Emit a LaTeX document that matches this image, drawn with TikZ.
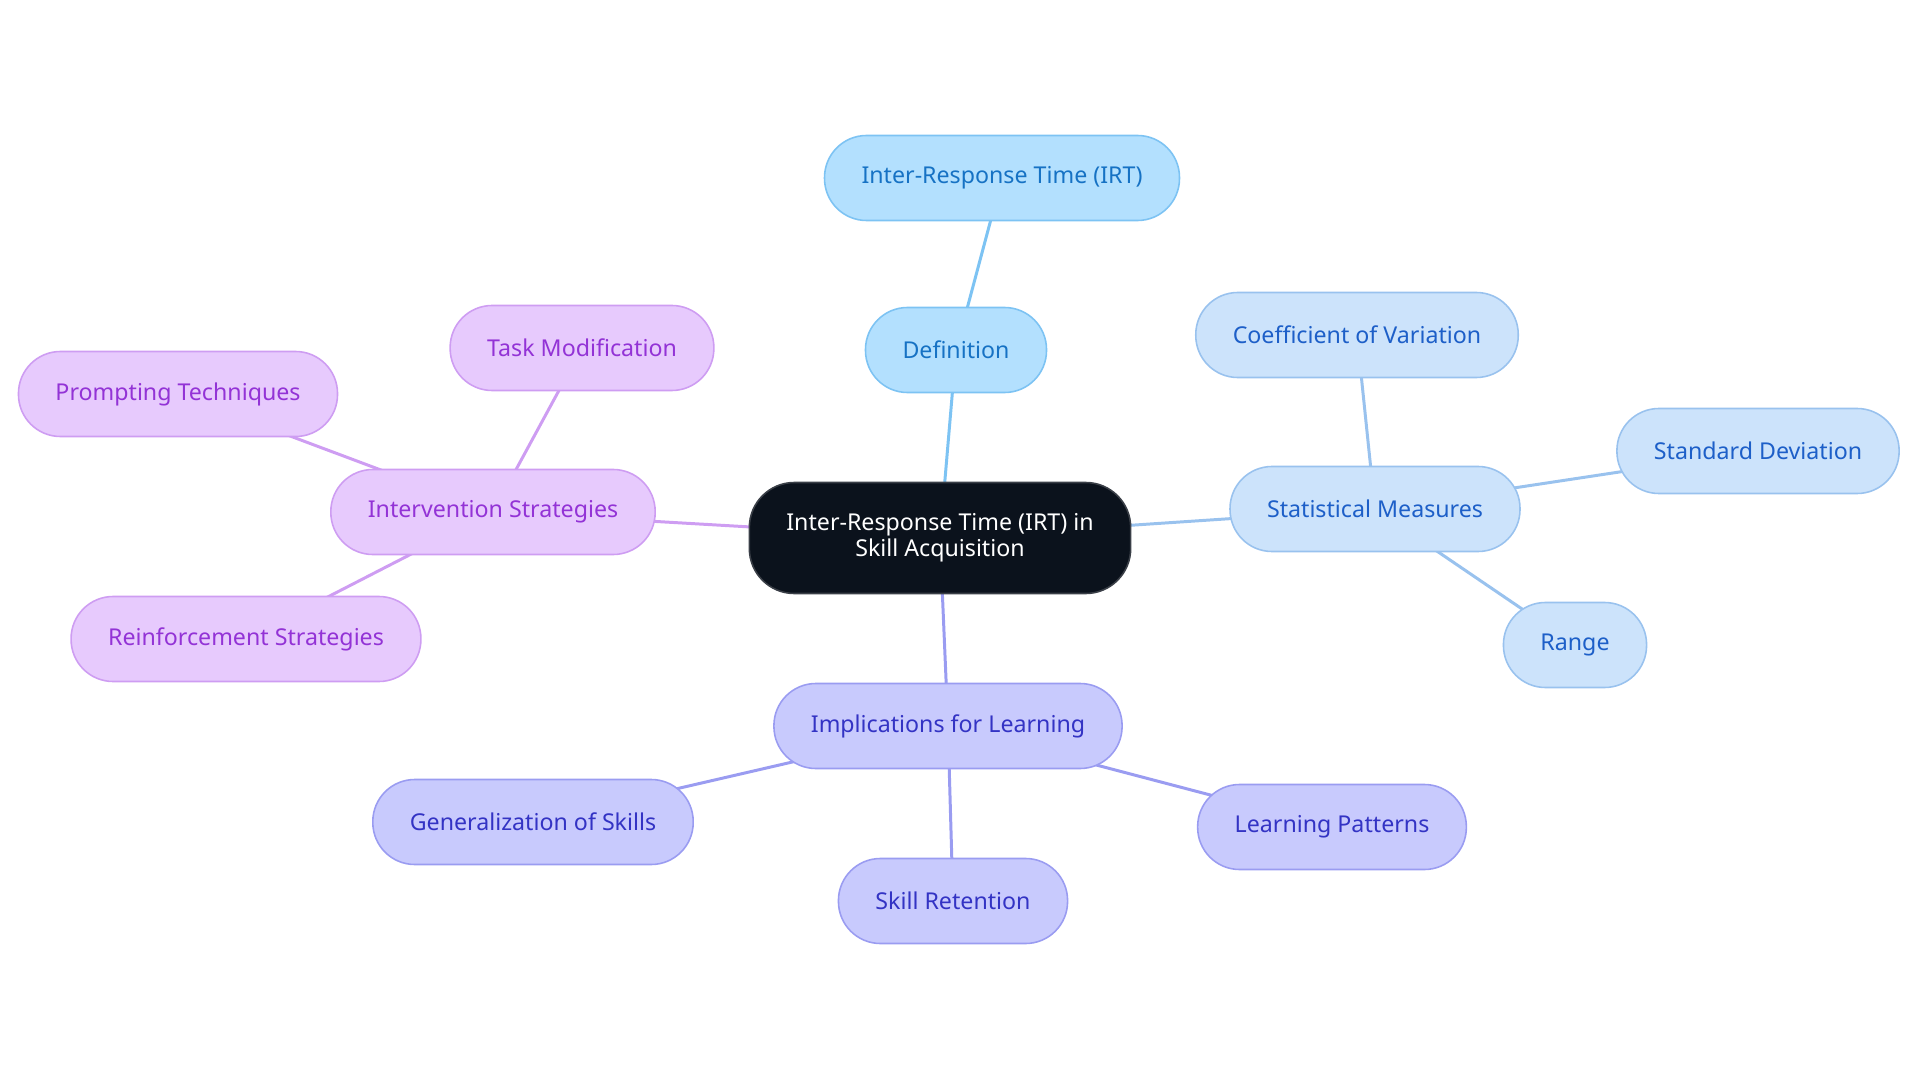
\documentclass[tikz,border=0pt]{standalone}
\usepackage{fontspec}
\setmainfont{Noto Sans}
\usepackage{tikz}
\usetikzlibrary{backgrounds}

\definecolor{hubfill}{HTML}{0B121C}
\definecolor{hubline}{HTML}{3A3F47}
\definecolor{deffill}{HTML}{B3E0FE}
\definecolor{defline}{HTML}{7DC3F3}
\definecolor{deftext}{HTML}{1672C4}
\definecolor{statfill}{HTML}{CCE3FB}
\definecolor{statline}{HTML}{99C2EE}
\definecolor{stattext}{HTML}{1D5FC8}
\definecolor{implfill}{HTML}{C8CAFD}
\definecolor{implline}{HTML}{9A9CF1}
\definecolor{impltext}{HTML}{3333C4}
\definecolor{intfill}{HTML}{E7CAFD}
\definecolor{intline}{HTML}{CE9DF2}
\definecolor{inttext}{HTML}{9333D6}

\begin{document}
\begin{tikzpicture}[
    box/.style={rounded corners=0.42cm, line width=0.45pt, minimum height=0.85cm,
      inner xsep=0.37cm, font=\fontsize{6.6}{7.5}\selectfont},
    hub/.style={box, fill=hubfill, draw=hubline, text=white, align=center,
      minimum height=1.11cm, rounded corners=0.45cm},
    defbox/.style={box, fill=deffill, draw=defline, text=deftext},
    statbox/.style={box, fill=statfill, draw=statline, text=stattext},
    implbox/.style={box, fill=implfill, draw=implline, text=impltext},
    intbox/.style={box, fill=intfill, draw=intline, text=inttext},
    link/.style={line width=0.85pt}
  ]
      \useasboundingbox (0, 0) rectangle (19.2, -10.83);
      \node[hub] (hub) at (9.40, -5.38) {Inter-Response Time (IRT) in\\Skill Acquisition};
      \node[defbox] (def) at (9.56, -3.50) {Definition};
      \node[defbox] (irt) at (10.02, -1.78) {Inter-Response Time (IRT)};
      \node[statbox] (stat) at (13.75, -5.09) {Statistical Measures};
      \node[statbox] (coef) at (13.57, -3.35) {Coefficient of Variation};
      \node[statbox] (sd) at (17.58, -4.51) {Standard Deviation};
      \node[statbox] (range) at (15.75, -6.45) {Range};
      \node[implbox] (impl) at (9.48, -7.26) {Implications for Learning};
      \node[implbox] (gen) at (5.33, -8.22) {Generalization of Skills};
      \node[implbox] (ret) at (9.53, -9.01) {Skill Retention};
      \node[implbox] (pat) at (13.32, -8.27) {Learning Patterns};
      \node[intbox] (interv) at (4.93, -5.12) {Intervention Strategies};
      \node[intbox] (task) at (5.82, -3.48) {Task Modification};
      \node[intbox] (prompt) at (1.78, -3.94) {Prompting Techniques};
      \node[intbox] (reinf) at (2.46, -6.39) {Reinforcement Strategies};
      % links run centre to centre, behind the boxes
      \begin{scope}[on background layer]
        \draw[link, draw=defline] (hub.center) -- (def.center);
        \draw[link, draw=defline] (def.center) -- (irt.center);
        \draw[link, draw=statline] (hub.center) -- (stat.center);
        \draw[link, draw=statline] (stat.center) -- (coef.center);
        \draw[link, draw=statline] (stat.center) -- (sd.center);
        \draw[link, draw=statline] (stat.center) -- (range.center);
        \draw[link, draw=implline] (hub.center) -- (impl.center);
        \draw[link, draw=implline] (impl.center) -- (gen.center);
        \draw[link, draw=implline] (impl.center) -- (ret.center);
        \draw[link, draw=implline] (impl.center) -- (pat.center);
        \draw[link, draw=intline] (hub.center) -- (interv.center);
        \draw[link, draw=intline] (interv.center) -- (task.center);
        \draw[link, draw=intline] (interv.center) -- (prompt.center);
        \draw[link, draw=intline] (interv.center) -- (reinf.center);
      \end{scope}
    \end{tikzpicture}
\end{document}
